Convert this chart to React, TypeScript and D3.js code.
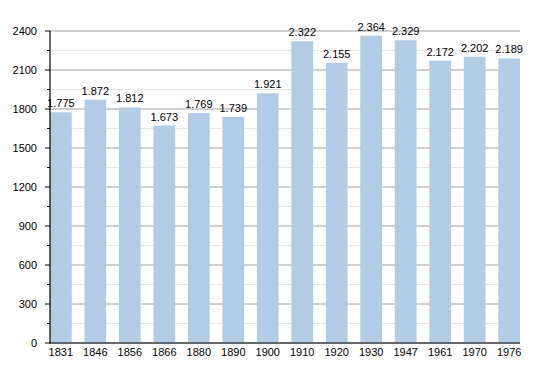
import React from "react";
import * as d3 from "d3";

const years = ["1831", "1846", "1856", "1866", "1880", "1890", "1900", "1910", "1920", "1930", "1947", "1961", "1970", "1976"];
const population = [1775, 1872, 1812, 1673, 1769, 1739, 1921, 2322, 2155, 2364, 2329, 2172, 2202, 2189];
const majorTicks = [0, 300, 600, 900, 1200, 1500, 1800, 2100, 2400];
const minorTicks = [150, 450, 750, 1050, 1350, 1650, 1950, 2250];

const W = 550;
const H = 373;
const left = 50;
const right = 520;
const top = 31;
const bottom = 343;

const fmt = (v: number) => d3.format(",")(v).replace(",", ".");

export default function App() {
  const x = d3.scaleBand<string>().domain(years).range([left, right]).paddingInner(0.37).paddingOuter(0);
  const y = d3.scaleLinear().domain([0, 2400]).range([bottom, top]);
  const font = "'Liberation Sans', Arial, sans-serif";

  return (
    <svg width={W} height={H} style={{ position: "absolute", left: 0, top: 0 }} fontFamily={font}>
      <rect width={W} height={H} fill="#fff" />
      {minorTicks.map((t) => (
        <line key={"m" + t} x1={left} x2={right} y1={y(t)} y2={y(t)} stroke="#e6e6e6" strokeWidth={1} />
      ))}
      {majorTicks.map((t) => (
        <line key={"g" + t} x1={left} x2={right} y1={y(t)} y2={y(t)} stroke="#a0a0a0" strokeWidth={1} />
      ))}
      {years.map((yr, i) => (
        <g key={yr}>
          <rect x={x(yr)} y={y(population[i])} width={x.bandwidth()} height={bottom - y(population[i])} fill="#b3cce6" />
          <text x={(x(yr) as number) + x.bandwidth() / 2} y={y(population[i]) - 5} textAnchor="middle" fontSize={11} fill="#000">
            {fmt(population[i])}
          </text>
          <text x={(x(yr) as number) + x.bandwidth() / 2} y={bottom + 13} textAnchor="middle" fontSize={11} fill="#000">
            {yr}
          </text>
        </g>
      ))}
      <line x1={left} x2={left} y1={top} y2={bottom} stroke="#000" strokeWidth={1.2} />
      <line x1={left - 1} x2={right} y1={bottom} y2={bottom} stroke="#000" strokeWidth={1.2} />
      {majorTicks.map((t) => (
        <g key={"t" + t}>
          <line x1={left - 5} x2={left} y1={y(t)} y2={y(t)} stroke="#000" />
          <text x={left - 13} y={y(t) + 4} textAnchor="end" fontSize={11} fill="#000">{t}</text>
        </g>
      ))}
      {minorTicks.map((t) => (
        <line key={"mt" + t} x1={left - 3} x2={left} y1={y(t)} y2={y(t)} stroke="#000" />
      ))}
    </svg>
  );
}
